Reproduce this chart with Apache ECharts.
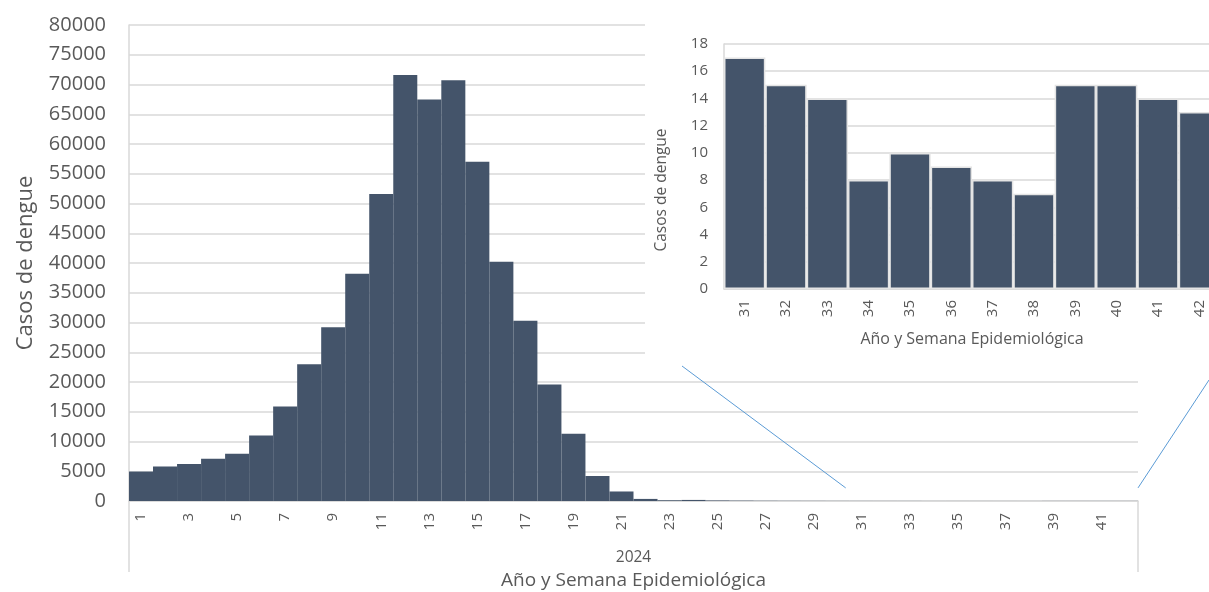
<!DOCTYPE html>
<html>
<head>
<meta charset="utf-8">
<script src="https://cdn.jsdelivr.net/npm/echarts@6/dist/echarts.min.js"></script>
<style>
  html, body { margin: 0; background: #fff; }
  #chart { width: 1209px; height: 592px; }
</style>
</head>
<body>
<div id="chart"></div>
<script>
// semanas epidemiológicas 2024
const weeks = ['1', '2', '3', '4', '5', '6', '7', '8', '9', '10', '11', '12', '13', '14',
  '15', '16', '17', '18', '19', '20', '21', '22', '23', '24', '25', '26', '27', '28',
  '29', '30', '31', '32', '33', '34', '35', '36', '37', '38', '39', '40', '41', '42'];
const cases = [4950, 5800, 6200, 7100, 7950, 11000, 15900, 23000, 29200, 38200, 51600, 71600,
  67500, 70700, 57000, 40200, 30300, 19600, 11300, 4200, 1600, 350, 120, 180, 90, 60,
  40, 30, 25, 20, 17, 15, 14, 8, 10, 9, 8, 7, 15, 15, 14, 13];
const years = ['2024'];
const zoomStart = 30; // inset starts at week 31

const insetWeeks = weeks.slice(zoomStart);
const insetCases = cases.slice(zoomStart);

const barColor = '#44546A';
const textColor = '#595959';
const gridColor = '#d9d9d9';
const font = 'Open Sans';

const chart = echarts.init(document.getElementById('chart'));

chart.setOption({
  animation: false,
  textStyle: { fontFamily: font },
  grid: [
    { left: 129, right: 71, top: 25, bottom: 91, outerBoundsMode: 'none' },
    { left: 724, top: 44, width: 496, height: 245, outerBoundsMode: 'none' }
  ],
  xAxis: [
    {
      type: 'category', gridIndex: 0, data: weeks, position: 'bottom', z: 0,
      axisLine: { show: true, lineStyle: { color: gridColor, width: 1.5 } },
      axisTick: { show: false },
      axisLabel: { interval: 1, rotate: 90, margin: 12, fontSize: 15, color: textColor, fontFamily: font }
    },
    {
      type: 'category', gridIndex: 0, data: years, position: 'bottom', z: 0,
      axisLine: { show: false },
      axisTick: { show: true, length: 71, interval: 0, lineStyle: { color: gridColor, width: 1.5 } },
      axisLabel: { margin: 49, fontSize: 15.5, color: textColor, fontFamily: font },
      name: 'Año y Semana Epidemiológica', nameLocation: 'middle', nameGap: 68,
      nameTextStyle: { fontSize: 19, color: textColor, fontFamily: font }
    },
    {
      type: 'category', gridIndex: 1, data: insetWeeks, z: 5,
      axisLine: { show: true, lineStyle: { color: gridColor, width: 1.5 } },
      axisTick: { show: false },
      axisLabel: { interval: 0, rotate: 90, margin: 11, fontSize: 15, color: textColor, fontFamily: font },
      name: 'Año y Semana Epidemiológica', nameLocation: 'middle', nameGap: 42,
      nameTextStyle: { fontSize: 16, color: textColor, fontFamily: font }
    }
  ],
  yAxis: [
    {
      type: 'value', gridIndex: 0, min: 0, max: 80000, interval: 5000, z: 0,
      axisLine: { show: true, lineStyle: { color: gridColor, width: 1.5 } },
      axisTick: { show: false },
      axisLabel: { margin: 23, fontSize: 20, color: textColor, fontFamily: font, formatter: v => String(v) },
      splitLine: { lineStyle: { color: gridColor, width: 1.5 } },
      name: 'Casos de dengue', nameLocation: 'middle', nameGap: 92,
      nameTextStyle: { fontSize: 22, color: textColor, fontFamily: font }
    },
    {
      type: 'value', gridIndex: 1, min: 0, max: 18, interval: 2, z: 5,
      axisLine: { show: true, lineStyle: { color: gridColor, width: 1.5 } },
      axisTick: { show: false },
      axisLabel: { margin: 16, fontSize: 15, color: textColor, fontFamily: font },
      splitLine: { lineStyle: { color: gridColor, width: 1.5 } },
      name: 'Casos de dengue', nameLocation: 'middle', nameGap: 54,
      nameTextStyle: { fontSize: 15.5, color: textColor, fontFamily: font, padding: [0, 47, 0, 0] }
    }
  ],
  series: [
    {
      type: 'bar', xAxisIndex: 0, yAxisIndex: 0, data: cases, z: 2,
      barCategoryGap: '0%',
      itemStyle: { color: barColor }
    },
    {
      type: 'bar', xAxisIndex: 2, yAxisIndex: 1, data: insetCases, z: 6,
      barCategoryGap: '0%',
      itemStyle: { color: barColor, borderColor: '#e4e4e4', borderWidth: 1.5 }
    }
  ]
});

// zoom connector lines from the main chart tail up to the inset
const p30 = chart.convertToPixel({ xAxisIndex: 0, yAxisIndex: 0 }, [weeks[zoomStart - 1], 2200]);
const p31 = chart.convertToPixel({ xAxisIndex: 0, yAxisIndex: 0 }, [weeks[zoomStart], 2200]);
const pLast = chart.convertToPixel({ xAxisIndex: 0, yAxisIndex: 0 }, [weeks[weeks.length - 1], 2200]);
const band = p31[0] - p30[0];

chart.setOption({
  graphic: [
    {
      type: 'rect', z: 3, silent: true,
      shape: { x: 645, y: 0, width: 564, height: 362 },
      style: { fill: '#fff' }
    },
    {
      type: 'line', z: 7, silent: true,
      shape: { x1: 682, y1: 366, x2: (p30[0] + p31[0]) / 2 - 4, y2: p30[1] },
      style: { stroke: '#5B9BD5', lineWidth: 1 }
    },
    {
      type: 'line', z: 7, silent: true,
      shape: { x1: 1209, y1: 380, x2: pLast[0] + band / 2, y2: pLast[1] },
      style: { stroke: '#5B9BD5', lineWidth: 1 }
    }
  ]
});
</script>
</body>
</html>
